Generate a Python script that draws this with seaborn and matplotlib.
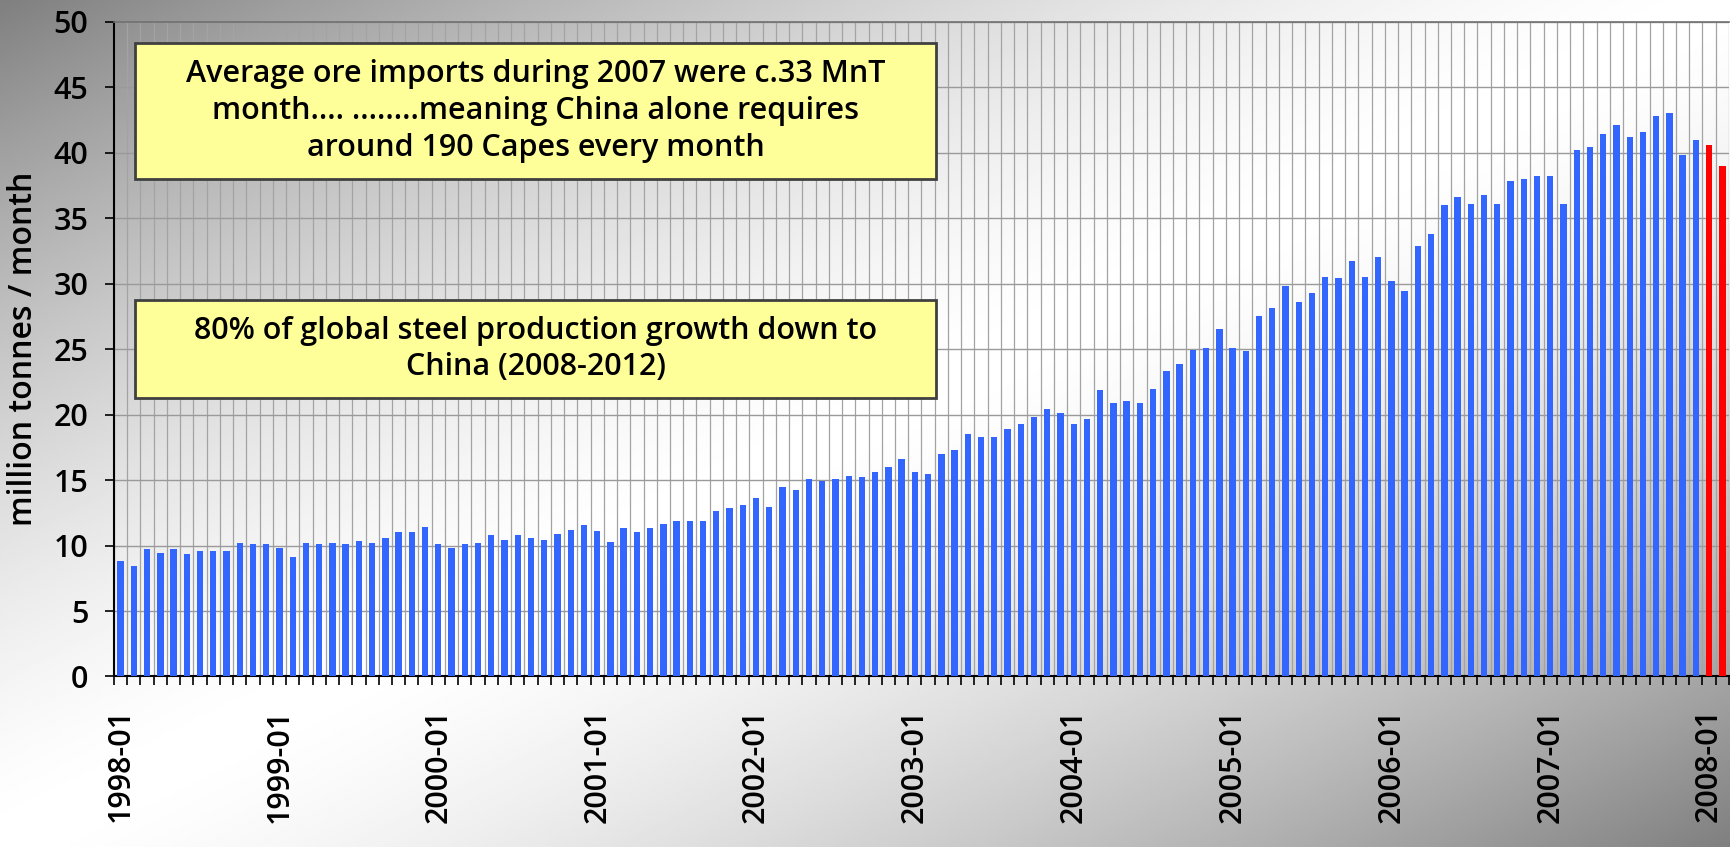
import numpy as np
import pandas as pd
import matplotlib
matplotlib.use("Agg")
import matplotlib.pyplot as plt
import seaborn as sns
from matplotlib.patches import Rectangle

sns.set_style("white")
plt.rcParams['font.family'] = ['Open Sans', 'DejaVu Sans']
plt.rcParams['font.weight'] = 'semibold'
plt.rcParams['axes.labelweight'] = 'semibold'
for key in ['text.color', 'axes.labelcolor', 'xtick.color', 'ytick.color']:
    plt.rcParams[key] = 'black'

# monthly iron ore imports, million tonnes
vals_1998 = [8.85, 8.46, 9.77, 9.46, 9.77, 9.38, 9.6, 9.6, 9.6, 10.23, 10.15, 10.15]
vals_1999 = [9.85, 9.15, 10.23, 10.15, 10.23, 10.15, 10.38, 10.23, 10.6, 11.0, 11.0, 11.38]
vals_2000 = [10.15, 9.85, 10.15, 10.23, 10.77, 10.46, 10.77, 10.6, 10.46, 10.85, 11.15, 11.6]
vals_2001 = [11.1, 10.3, 11.37, 11.07, 11.37, 11.68, 11.9, 11.9, 11.9, 12.67, 12.9, 13.13]
vals_2002 = [13.66, 12.98, 14.5, 14.27, 15.1, 14.9, 15.1, 15.34, 15.27, 15.65, 16.0, 16.6]
vals_2003 = [15.65, 15.5, 17.0, 17.3, 18.5, 18.3, 18.3, 18.9, 19.25, 19.85, 20.45, 20.1]
vals_2004 = [19.3, 19.7, 21.85, 20.85, 21.07, 20.85, 21.96, 23.3, 23.85, 24.9, 25.1, 26.5]
vals_2005 = [25.1, 24.85, 27.5, 28.1, 29.85, 28.6, 29.3, 30.5, 30.45, 31.7, 30.5, 32.05]
vals_2006 = [30.2, 29.45, 32.9, 33.8, 36.0, 36.6, 36.1, 36.8, 36.1, 37.8, 38.0, 38.2]
vals_2007 = [38.2, 36.1, 40.2, 40.4, 41.4, 42.1, 41.2, 41.6, 42.8, 43.0, 39.8, 41.0]
vals_2008 = [40.6, 39.0]

years = list(range(1998, 2009))
imports_by_year = [vals_1998, vals_1999, vals_2000, vals_2001, vals_2002, vals_2003,
                   vals_2004, vals_2005, vals_2006, vals_2007, vals_2008]
latest_months = ["2008-01", "2008-02"]   # drawn in red

note_top = ("Average ore imports during 2007 were c.33 MnT\n"
            "month…. ……..meaning China alone requires\n"
            "around 190 Capes every month")
note_bottom = "80% of global steel production growth down to\nChina (2008-2012)"

months, values = [], []
for yr, vals in zip(years, imports_by_year):
    for m, v in enumerate(vals, 1):
        months.append(f"{yr}-{m:02d}")
        values.append(v)

df = pd.DataFrame({"month": months, "imports": values})
df["status"] = np.where(df["month"].isin(latest_months), "latest", "history")

fig = plt.figure(figsize=(17.3, 8.47), dpi=100)

# grey diagonal gradient behind everything
bg = fig.add_axes([0, 0, 1, 1], zorder=0)
u, v = np.meshgrid(np.linspace(0, 1, 700), np.linspace(0, 1, 350))
shade = 1 - 0.5 * np.abs(u + v - 1) ** 1.5
bg.imshow(shade, cmap="gray", vmin=0, vmax=1, aspect="auto", interpolation="bilinear")
bg.axis("off")

ax = fig.add_axes([0.0659, 0.2013, 0.9335, 0.7731], zorder=1)
ax.patch.set_alpha(0)

sns.barplot(data=df, x="month", y="imports", hue="status", order=months,
            palette={"history": "#3366ff", "latest": "#ff0000"},
            dodge=False, width=0.48, saturation=1, legend=False,
            linewidth=0, ax=ax, zorder=3)

n = len(months)
ax.set_xlim(-0.5, n - 0.5)
ax.set_ylim(0, 50)
ax.set_yticks(np.arange(0, 51, 5))
ax.set_xticks(np.arange(0, n, 12))
ax.set_xticklabels(months[::12], rotation=90)
ax.set_xticks(np.arange(-0.5, n), minor=True)

ax.grid(False)
ax.grid(axis="y", which="major", color="#9a9a9a", lw=1)
ax.grid(axis="x", which="minor", color="#a3a3a3", lw=0.9)
ax.set_axisbelow(True)

ax.tick_params(axis="x", which="major", bottom=True, length=0, pad=23, labelsize=22)
ax.tick_params(axis="x", which="minor", bottom=True, length=6.5, width=1.2,
               color="black", direction="out")
ax.tick_params(axis="y", left=True, length=6.5, width=1.2, color="black", pad=12, labelsize=22)

for side in ["left", "bottom"]:
    ax.spines[side].set_color("black")
    ax.spines[side].set_linewidth(1.5)
ax.spines["top"].set_color("#707070")
ax.spines["top"].set_linewidth(1.2)
ax.spines["right"].set_visible(False)

ax.set_xlabel("")
ax.set_ylabel("million tonnes / month", fontsize=23, fontweight="semibold")
ax.yaxis.set_label_coords(-0.046, 0.5)

# yellow note boxes
for (x0, y0, w, h), txt, ls in [((0.013, 0.760, 0.496, 0.2075), note_top, 1.29),
                                ((0.013, 0.4253, 0.496, 0.1497), note_bottom, 1.22)]:
    ax.add_patch(Rectangle((x0, y0), w, h, transform=ax.transAxes,
                           facecolor="#ffff99", edgecolor="#404040", lw=2, zorder=5))
    ax.text(x0 + w / 2, y0 + h / 2, txt, transform=ax.transAxes, ha="center", va="center",
            fontsize=22, linespacing=ls, zorder=6)

fig.savefig("out.png", dpi=100)
